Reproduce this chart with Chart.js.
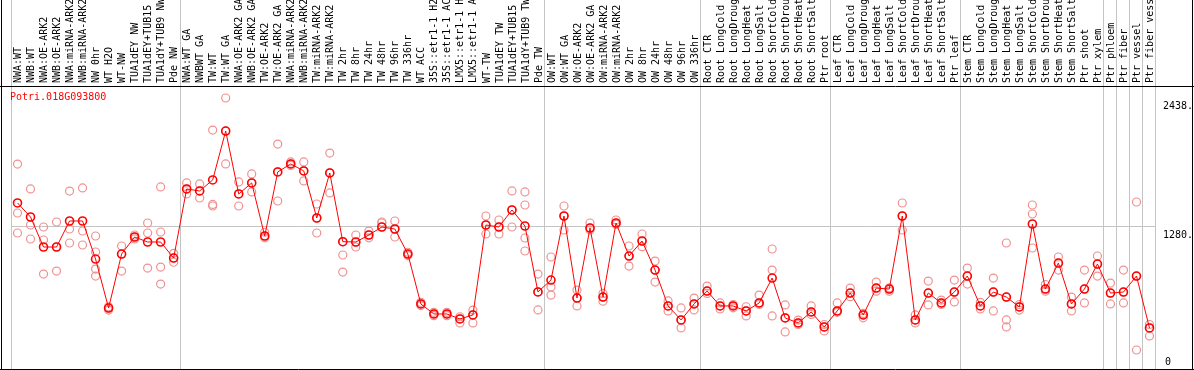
<!DOCTYPE html>
<html>
<head>
<meta charset="utf-8">
<script src="https://cdn.jsdelivr.net/npm/chart.js@4"></script>
<style>
    html, body { margin: 0; padding: 0; background: #fff; }
    #wrap { position: relative; width: 1194px; height: 370px; }
</style>
</head>
<body>
<div id="wrap"><canvas id="chart"></canvas></div>
<script>
const geneId = "Potri.018G093800";

const labels = [
    "NWA:WT", "NWB:WT", "NWA:OE-ARK2", "NWB:OE-ARK2", "NWA:miRNA-ARK2", "NWB:miRNA-ARK2",
    "NW 0hr", "WT H2O", "WT-NW", "TUA1dEY NW", "TUA1dEY+TUB15 NW", "TUA1dY+TUB9 NW", "Pde NW",
    "NWA:WT GA", "NWBWT GA", "TW:WT", "TW:WT GA", "NWA:OE-ARK2 GA", "NWB:OE-ARK2 GA",
    "TW:OE-ARK2", "TW:OE-ARK2 GA", "NWA:miRNA-ARK2 GA", "NWB:miRNA-ARK2 GA", "TW:miRNA-ARK2",
    "TW:miRNA-ARK2 GA", "TW 2hr", "TW 8hr", "TW 24hr", "TW 48hr", "TW 96hr", "TW 336hr",
    "WT ACC", "35S::etr1-1 H2O", "35S::etr1-1 ACC", "LMX5::etr1-1 H2O", "LMX5::etr1-1 ACC",
    "WT-TW", "TUA1dEY TW", "TUA1dEY+TUB15 TW", "TUA1dY+TUB9 TW", "Pde TW",
    "OW:WT", "OW:WT GA", "OW:OE-ARK2", "OW:OE-ARK2 GA", "OW:miRNA-ARK2", "OW:miRNA-ARK2 GA",
    "OW 2hr", "OW 8hr", "OW 24hr", "OW 48hr", "OW 96hr", "OW 336hr",
    "Root CTR", "Root LongCold", "Root LongDrought", "Root LongHeat", "Root LongSalt",
    "Root ShortCold", "Root ShortDrought", "Root ShortHeat", "Root ShortSalt", "Ptr root",
    "Leaf CTR", "Leaf LongCold", "Leaf LongDrought", "Leaf LongHeat", "Leaf LongSalt",
    "Leaf ShortCold", "Leaf ShortDrought", "Leaf ShortHeat", "Leaf ShortSalt", "Ptr leaf",
    "Stem CTR", "Stem LongCold", "Stem LongDrought", "Stem LongHeat", "Stem LongSalt",
    "Stem ShortCold", "Stem ShortDrought", "Stem ShortHeat", "Stem ShortSalt", "Ptr shoot",
    "Ptr xylem", "Ptr phloem", "Ptr fiber", "Ptr vessel", "Ptr fiber vessel"
];

// mean expression per sample
const means = [
    1493, 1367, 1097, 1097, 1331, 1331, 989, 548, 1034, 1187, 1142, 1142, 998,
    1619, 1601, 1700, 2140, 1574, 1673, 1196, 1772, 1844, 1781, 1358, 1763, 1145, 1142,
    1205, 1277, 1259, 1034, 585, 495, 495, 450, 486, 1295, 1277, 1430, 1286, 693,
    800, 1376, 638, 1268, 647, 1313, 1016, 1151, 890, 567, 441, 585,
    701, 567, 567, 522, 594, 818, 459, 414, 513, 378,
    522, 683, 486, 728, 719, 1376, 441, 683, 594, 692,
    836, 567, 692, 647, 558, 1304, 719, 953, 585, 719, 944,
    683, 692, 836, 369
];

// individual replicates
const rep1 = [
    1843, 1619, 1277, 1322, 1600, 1628, 1196, 530, 1106, 1205, 1313, 1637, 1040,
    1673, 1664, 2149, 2437, 1682, 1754, 1230, 2023, 1862, 1862, 1484, 1942, 1025, 1205,
    1240, 1322, 1331, 1050, 600, 510, 510, 414, 414, 1376, 1340, 1601, 1592, 854,
    1007, 1466, 710, 1313, 680, 1340, 1106, 1214, 971, 612, 549, 638,
    746, 594, 580, 560, 665, 1079, 576, 440, 567, 400,
    594, 728, 500, 782, 730, 1493, 486, 791, 620, 800,
    908, 600, 818, 1133, 580, 1475, 760, 1007, 647, 890, 1016,
    773, 890, 1502, 400
];
const rep2 = [
    1403, 1295, 1160, 881, 1259, 1241, 1052, 560, 881, 1170, 1223, 1232, 960,
    1574, 1538, 1466, 1844, 1466, 1592, 1180, 1511, 1830, 1691, 1223, 1583, 872, 1097,
    1180, 1313, 1187, 1020, 570, 480, 480, 450, 530, 1214, 1214, 1277, 1475, 531,
    737, 1250, 567, 1250, 610, 1300, 926, 1100, 782, 522, 369, 531,
    680, 540, 550, 477, 594, 890, 333, 400, 490, 342,
    510, 650, 460, 700, 700, 1250, 414, 576, 580, 603,
    764, 540, 522, 441, 530, 1394, 700, 890, 522, 594, 836,
    585, 594, 171, 297
];
const rep3 = [
    1223, 1169, 854, 1097, 1133, 1115, 899, 548, 1034, 1187, 908, 917, 998,
    1619, 1601, 1480, 2140, 1574, 1673, 1196, 1772, 1844, 1781, 1358, 1763, 1145, 1142,
    1205, 1277, 1259, 1034, 585, 495, 495, 470, 486, 1295, 1277, 1430, 1178, 693,
    665, 1376, 638, 1268, 647, 1313, 1016, 1151, 890, 567, 441, 585,
    701, 567, 567, 522, 580, 477, 459, 414, 513, 378,
    522, 683, 486, 728, 719, 1376, 441, 683, 594, 692,
    836, 567, 692, 378, 558, 1088, 719, 953, 585, 719, 944,
    683, 692, 836, 369
];
const rep4 = labels.map(() => null);
rep4[6] = 836;
rep4[11] = 764;
rep4[39] = 1061;
rep4[76] = 647;

const groupStarts = [0, 13, 41, 53, 63, 73, 84, 85, 86, 87];
const yTicks = [0, 1280, 2438];
const yMax = 2545;

const MONO = "'DejaVu Sans Mono', monospace";
const PINK = "rgb(240, 145, 145)";

const framePlugin = {
    id: "frame",
    afterDraw(chart) {
        const ctx = chart.ctx;
        const area = chart.chartArea;
        const yScale = chart.scales.y;
        const w = chart.width;

        ctx.save();
        ctx.strokeStyle = "#000";
        ctx.lineWidth = 1;
        ctx.beginPath();
        ctx.moveTo(1.5, 0); ctx.lineTo(1.5, area.bottom + 0.5);
        ctx.moveTo(w - 1.5, 0); ctx.lineTo(w - 1.5, area.bottom + 0.5);
        ctx.moveTo(0, area.top + 0.5); ctx.lineTo(w, area.top + 0.5);
        ctx.moveTo(0, area.bottom + 0.5); ctx.lineTo(w, area.bottom + 0.5);
        ctx.stroke();

        ctx.font = "10px " + MONO;
        ctx.fillStyle = "#ff0000";
        ctx.textAlign = "left";
        ctx.textBaseline = "middle";
        ctx.fillText(geneId, area.left - 1, area.top + 11);

        ctx.fillStyle = "#000";
        yTicks.forEach(v => {
            const py = yScale.getPixelForValue(v);
            if (v === 0) {
                ctx.textBaseline = "middle";
                ctx.fillText("0", area.right + 9, py - 7);
            } else {
                ctx.textBaseline = "top";
                ctx.fillText(v + ".", area.right + 7, py + 4);
            }
        });
        ctx.restore();
    }
};

function repSet(data) {
    return {
        data: data,
        showLine: false,
        borderColor: PINK,
        backgroundColor: "rgba(0,0,0,0)",
        pointRadius: 4,
        pointBorderWidth: 1.2,
        pointHoverRadius: 4
    };
}

new Chart(document.getElementById("chart"), {
    type: "line",
    data: {
        labels: labels,
        datasets: [
            {
                data: means,
                borderColor: "#ff0000",
                borderWidth: 1,
                backgroundColor: "rgba(0,0,0,0)",
                pointBorderColor: "#ff0000",
                pointBackgroundColor: "rgba(0,0,0,0)",
                pointRadius: 4,
                pointBorderWidth: 1.6,
                tension: 0
            },
            repSet(rep1),
            repSet(rep2),
            repSet(rep3),
            repSet(rep4)
        ]
    },
    options: {
        responsive: true,
        maintainAspectRatio: false,
        animation: false,
        layout: { autoPadding: false, padding: { left: 11, right: 0, top: 0, bottom: 1 } },
        plugins: {
            legend: { display: false },
            tooltip: { enabled: false }
        },
        scales: {
            x: {
                position: "top",
                offset: true,
                grid: {
                    offset: true,
                    drawTicks: true,
                    tickLength: 86,
                    color: ctx => (ctx.index === undefined || groupStarts.includes(ctx.index)) ? "#c4c4c4" : "rgba(0,0,0,0)"
                },
                border: { display: false },
                ticks: {
                    autoSkip: false,
                    minRotation: 90,
                    maxRotation: 90,
                    padding: -83,
                    labelOffset: 13,
                    color: "#000",
                    font: { family: MONO, size: 10 }
                },
                afterFit: scale => { scale.height = 86; }
            },
            y: {
                position: "right",
                min: 0,
                max: yMax,
                afterBuildTicks: scale => { scale.ticks = yTicks.map(v => ({ value: v })); },
                afterFit: scale => { scale.width = 38; },
                grid: {
                    drawTicks: false,
                    color: ctx => (ctx.tick && ctx.tick.value === 1280) ? "#c4c4c4" : "rgba(0,0,0,0)"
                },
                border: { display: false },
                ticks: { display: false }
            }
        }
    },
    plugins: [framePlugin]
});
</script>
</body>
</html>
